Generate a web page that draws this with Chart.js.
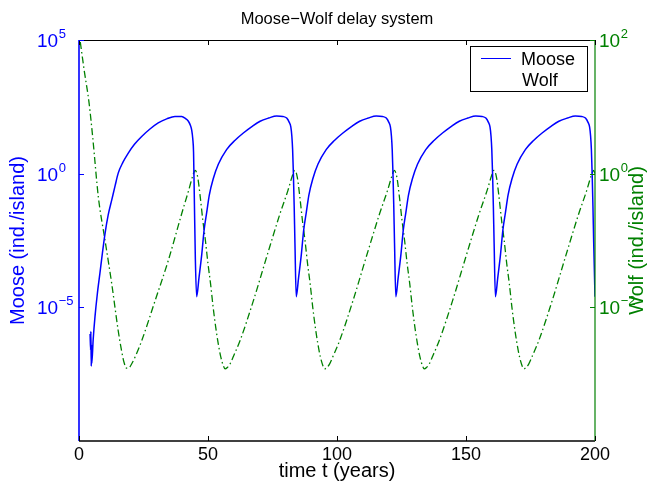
<!DOCTYPE html>
<html><head><meta charset="utf-8">
<script src="https://cdn.jsdelivr.net/npm/chart.js@4/dist/chart.umd.min.js"></script>
<style>html,body{margin:0;padding:0;background:#fff}canvas{display:block}</style>
</head><body>
<canvas id="c" width="647" height="485"></canvas>
<script>
// ---- text ----
const chartTitle = 'Moose\u2212Wolf delay system';
const xAxisLabel = 'time t (years)';
const mooseAxisLabel = 'Moose (ind./island)';
const wolfAxisLabel = 'Wolf (ind./island)';
const seriesNames = ['Moose', 'Wolf'];

// ---- ticks ----
const xTicks = [0, 50, 100, 150, 200];
const mooseTickExponents = [5, 0, -5];   // 10^5, 10^0, 10^-5
const wolfTickExponents = [2, 0, -2];    // 10^2, 10^0, 10^-2

// ---- data (time in years, value as log10 of individuals/island) ----
const mooseT = [4.3, 4.5, 4.6, 4.75, 4.85, 4.95, 5.5, 6.2, 7.1, 8.1, 9.1, 10.1, 11.3, 12.7, 14.0, 15.2, 17.0, 19.1, 21.5, 24.3, 27.5, 30.7, 34.0, 37.2, 39.8, 41.3, 42.4, 43.2, 43.7, 44.1, 44.4, 44.7, 45.1, 45.6,
  46.5, 47.6, 48.5, 49.5, 50.5, 52.0, 54.0, 57.2, 60.5, 63.7, 67.0, 70.2, 73.5, 76.6, 79.0, 80.5, 81.5, 82.1, 82.5, 82.8, 83.1, 83.4, 83.7, 84.2,
  85.1, 86.2, 87.1, 88.1, 89.1, 90.6, 92.6, 95.8, 99.1, 102.3, 105.6, 108.8, 112.1, 115.2, 117.6, 119.1, 120.1, 120.7, 121.1, 121.4, 121.7, 122.0, 122.3, 122.8,
  123.7, 124.8, 125.7, 126.7, 127.7, 129.2, 131.2, 134.4, 137.7, 140.9, 144.2, 147.4, 150.7, 153.8, 156.2, 157.7, 158.7, 159.3, 159.7, 160.0, 160.3, 160.6, 160.9, 161.4,
  162.3, 163.4, 164.3, 165.3, 166.3, 167.8, 169.8, 173.0, 176.3, 179.5, 182.8, 186.0, 189.3, 192.4, 194.8, 196.3, 197.3, 197.9, 198.3, 198.6, 198.9, 199.2, 199.5, 200.0];
const mooseLog = [-6.0, -6.6, -5.9, -7.2, -6.4, -7.1, -6.2, -5.35, -4.5, -3.73, -2.95, -2.23, -1.55, -0.98, -0.45, 0.02, 0.42, 0.77, 1.1, 1.39, 1.67, 1.9, 2.05, 2.14, 2.14, 2.06, 1.96, 1.8, 1.62, 1.3, 0.8, -0.9, -3.2, -4.6,
  -3.9, -3.0, -2.1, -1.45, -0.8, -0.2, 0.35, 0.9, 1.25, 1.52, 1.76, 1.96, 2.08, 2.16, 2.14, 2.08, 1.92, 1.75, 1.4, 0.9, 0.0, -1.2, -2.6, -4.6,
  -3.9, -3.0, -2.1, -1.45, -0.8, -0.2, 0.35, 0.9, 1.25, 1.52, 1.76, 1.96, 2.08, 2.16, 2.14, 2.08, 1.92, 1.75, 1.4, 0.9, 0.0, -1.2, -2.6, -4.6,
  -3.9, -3.0, -2.1, -1.45, -0.8, -0.2, 0.35, 0.9, 1.25, 1.52, 1.76, 1.96, 2.08, 2.16, 2.14, 2.08, 1.92, 1.75, 1.4, 0.9, 0.0, -1.2, -2.6, -4.6,
  -3.9, -3.0, -2.1, -1.45, -0.8, -0.2, 0.35, 0.9, 1.25, 1.52, 1.76, 1.96, 2.08, 2.16, 2.14, 2.08, 1.92, 1.75, 1.4, 0.9, 0.0, -1.2, -2.6, -4.6];

const wolfT = [0.5, 2.0, 3.9, 5.3, 7.5, 10.1, 12.7, 15.2, 16.5, 17.5, 18.5, 19.5, 20.5, 22.0, 24.3, 29.5, 34.6, 39.8, 42.5, 44.2, 45.0,
  46.0, 47.0, 48.0, 49.0, 50.0, 51.0, 52.0, 53.0, 54.0, 55.0, 56.0, 56.6, 57.5, 58.5, 60.0, 62.4, 67.6, 72.7, 77.9, 81.0, 82.8, 83.6,
  84.6, 85.6, 86.6, 87.6, 88.6, 89.6, 90.6, 91.6, 92.6, 93.6, 94.6, 95.2, 96.1, 97.1, 98.6, 101.0, 106.2, 111.3, 116.5, 119.6, 121.4, 122.2,
  123.2, 124.2, 125.2, 126.2, 127.2, 128.2, 129.2, 130.2, 131.2, 132.2, 133.2, 133.8, 134.7, 135.7, 137.2, 139.6, 144.8, 149.9, 155.1, 158.2, 160.0, 160.8,
  161.8, 162.8, 163.8, 164.8, 165.8, 166.8, 167.8, 168.8, 169.8, 170.8, 171.8, 172.4, 173.3, 174.3, 175.8, 178.2, 183.4, 188.5, 193.7, 196.8, 198.6, 199.4, 200.0];
const wolfLog = [1.97, 1.55, 1.06, 0.55, -0.35, -1.0, -1.65, -2.35, -2.65, -2.83, -2.91, -2.9, -2.84, -2.72, -2.5, -1.9, -1.3, -0.6, -0.25, -0.02, 0.05,
  -0.05, -0.35, -0.7, -1.0, -1.35, -1.65, -2.0, -2.3, -2.55, -2.75, -2.88, -2.92, -2.9, -2.85, -2.72, -2.5, -1.9, -1.25, -0.6, -0.25, -0.02, 0.05,
  -0.05, -0.35, -0.7, -1.0, -1.35, -1.65, -2.0, -2.3, -2.55, -2.75, -2.88, -2.92, -2.9, -2.85, -2.72, -2.5, -1.9, -1.25, -0.6, -0.25, -0.02, 0.05,
  -0.05, -0.35, -0.7, -1.0, -1.35, -1.65, -2.0, -2.3, -2.55, -2.75, -2.88, -2.92, -2.9, -2.85, -2.72, -2.5, -1.9, -1.25, -0.6, -0.25, -0.02, 0.05,
  -0.05, -0.35, -0.7, -1.0, -1.35, -1.65, -2.0, -2.3, -2.55, -2.75, -2.88, -2.92, -2.9, -2.85, -2.72, -2.5, -1.9, -1.25, -0.6, -0.25, -0.02, 0.05, 0.0];

// ---- style ----
const BLUE = '#0000ff';
const GREEN = '#008000';
const FONT = '"Liberation Sans", Arial, Helvetica, sans-serif';

const toPoints = (ts, logs) => ts.map((t, i) => ({ x: t, y: Math.pow(10, logs[i]) }));

const decor = {
  id: 'decor',
  afterDraw(chart) {
    const ctx = chart.ctx, a = chart.chartArea;
    const xs = chart.scales.x, ym = chart.scales.yM, yw = chart.scales.yW;
    const L = a.left, R = a.right, T = a.top, B = a.bottom;
    ctx.save();
    const seg = (x1, y1, x2, y2) => { ctx.beginPath(); ctx.moveTo(x1, y1); ctx.lineTo(x2, y2); ctx.stroke(); };

    // frame
    ctx.strokeStyle = '#000'; ctx.lineWidth = 1;
    seg(L, T + 0.5, R, T + 0.5);
    ctx.lineWidth = 1.5;
    seg(L, B, R, B);
    ctx.strokeStyle = BLUE; ctx.lineWidth = 1.6;
    seg(L, T, L, B);
    ctx.strokeStyle = GREEN; ctx.lineWidth = 1.2;
    seg(R, T, R, B);

    const TL = 5;
    // x ticks (bottom & top, inward)
    ctx.strokeStyle = '#000'; ctx.lineWidth = 1;
    ctx.fillStyle = '#000';
    ctx.font = '18px ' + FONT; ctx.textAlign = 'center'; ctx.textBaseline = 'alphabetic';
    xTicks.forEach(v => {
      const px = Math.round(xs.getPixelForValue(v)) + 0.5;
      seg(px, B, px, B - TL);
      seg(px, T, px, T + TL);
      ctx.fillText(String(v), xs.getPixelForValue(v), B + 19);
    });

    // power labels
    const pow = (x, y, e, color) => {
      ctx.fillStyle = color; ctx.textAlign = 'left'; ctx.textBaseline = 'alphabetic';
      ctx.font = '19px ' + FONT;
      ctx.fillText('10', x, y + 7);
      const w = ctx.measureText('10').width;
      ctx.font = '13px ' + FONT;
      ctx.fillText(e < 0 ? '\u2212' + String(-e) : String(e), x + w + 0.5, y - 2);
    };

    // Moose (left) ticks
    ctx.strokeStyle = BLUE; ctx.lineWidth = 1;
    mooseTickExponents.forEach(e => {
      const py = Math.round(ym.getPixelForValue(Math.pow(10, e))) + 0.5;
      seg(L, py, L + TL, py);
      pow(37, ym.getPixelForValue(Math.pow(10, e)), e, BLUE);
    });
    // Wolf (right) ticks
    ctx.strokeStyle = GREEN;
    wolfTickExponents.forEach(e => {
      const py = Math.round(yw.getPixelForValue(Math.pow(10, e))) + 0.5;
      seg(R, py, R - TL, py);
      pow(R + 4, yw.getPixelForValue(Math.pow(10, e)), e, GREEN);
    });

    // titles
    ctx.fillStyle = '#000'; ctx.textAlign = 'center'; ctx.textBaseline = 'alphabetic';
    ctx.font = '16.5px ' + FONT;
    ctx.fillText(chartTitle, (L + R) / 2, 24);
    ctx.font = '20px ' + FONT;
    ctx.fillText(xAxisLabel, (L + R) / 2, 477);
    const cy = (T + B) / 2;
    ctx.textBaseline = 'middle';
    ctx.save(); ctx.translate(18, cy); ctx.rotate(-Math.PI / 2);
    ctx.fillStyle = BLUE; ctx.fillText(mooseAxisLabel, 0, 0); ctx.restore();
    ctx.save(); ctx.translate(637, cy); ctx.rotate(-Math.PI / 2);
    ctx.fillStyle = GREEN; ctx.fillText(wolfAxisLabel, 0, 0); ctx.restore();

    // legend
    ctx.fillStyle = '#fff';
    ctx.fillRect(470, 46, 118, 46);
    ctx.strokeStyle = '#000'; ctx.lineWidth = 1;
    ctx.strokeRect(470.5, 46.5, 117, 45);
    ctx.strokeStyle = BLUE; ctx.lineWidth = 1;
    seg(481, 58.5, 511, 58.5);
    ctx.fillStyle = '#000'; ctx.textAlign = 'left'; ctx.textBaseline = 'alphabetic';
    ctx.font = '18px ' + FONT;
    ctx.fillText(seriesNames[0], 521, 65);
    ctx.fillText(seriesNames[1], 522, 86);
    ctx.restore();
  }
};

new Chart(document.getElementById('c'), {
  type: 'line',
  data: {
    datasets: [
      { label: seriesNames[0], data: toPoints(mooseT, mooseLog), yAxisID: 'yM',
        borderColor: BLUE, borderWidth: 1.5, pointRadius: 0, fill: false,
        cubicInterpolationMode: 'monotone' },
      { label: seriesNames[1], data: toPoints(wolfT, wolfLog), yAxisID: 'yW',
        borderColor: GREEN, borderWidth: 1.3, pointRadius: 0, fill: false,
        borderDash: [7, 3, 1.5, 3], cubicInterpolationMode: 'monotone' }
    ]
  },
  options: {
    responsive: false, animation: false, devicePixelRatio: 1,
    layout: { padding: { left: 79, right: 52, top: 40, bottom: 44 } },
    plugins: { legend: { display: false }, title: { display: false }, tooltip: { enabled: false } },
    scales: {
      x: { type: 'linear', min: 0, max: 200, display: false },
      yM: { type: 'logarithmic', position: 'left', min: 1e-10, max: 1e5, display: false },
      yW: { type: 'logarithmic', position: 'right', min: 1e-4, max: 1e2, display: false }
    }
  },
  plugins: [decor]
});
</script>
</body></html>
